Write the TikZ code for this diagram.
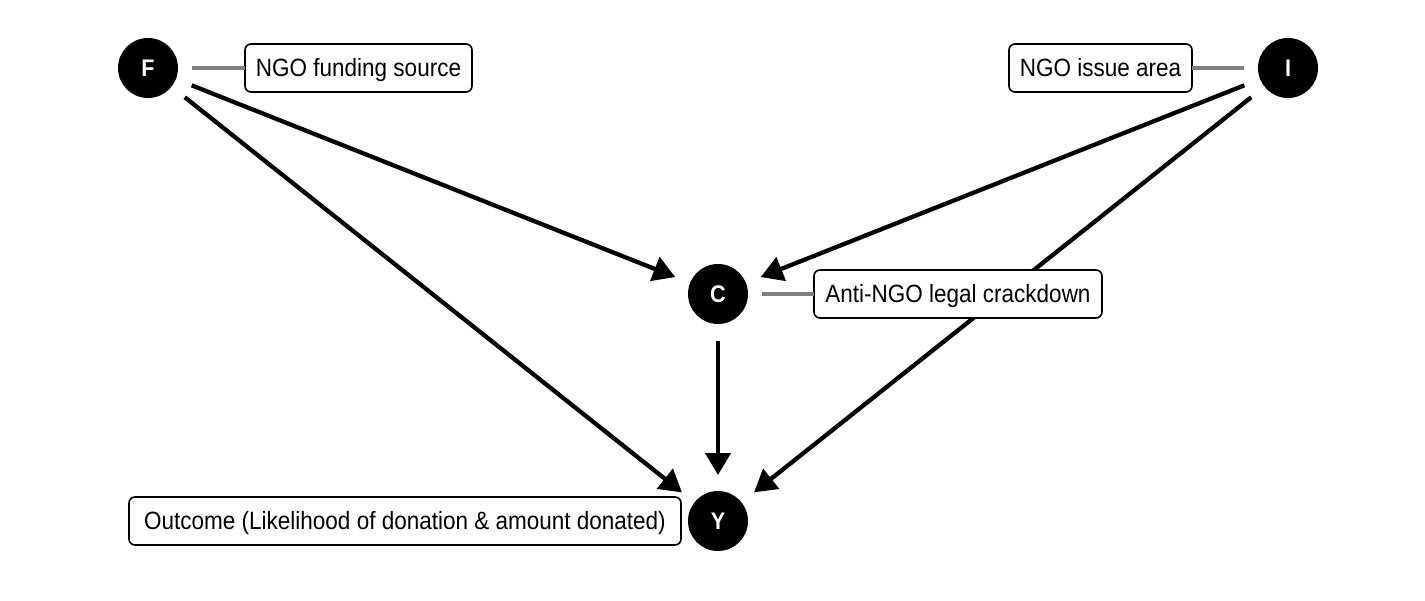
\documentclass[tikz,border=0pt]{standalone}
\usepackage{fontspec}
\setmainfont{Liberation Sans}[FakeStretch=0.9]
\usetikzlibrary{arrows.meta}
\begin{document}
\begin{tikzpicture}[x=1pt,y=-1pt,
  dagnode/.style={circle,fill=black,minimum size=60pt,inner sep=0pt,outer sep=0pt,text=white,font=\fontsize{24}{26}\selectfont\bfseries},
  labelbox/.style={draw=black,line width=1.6pt,rounded corners=6pt,fill=white,minimum height=48pt,inner xsep=0pt,inner ysep=0pt,outer sep=0pt,text height=17.5pt,text depth=0pt,font=\fontsize{25}{28}\selectfont},
  edge/.style={line width=4.3pt,-{Triangle[length=22pt,width=25pt]},shorten <=17pt,shorten >=16pt},
  tie/.style={color=black!50,line width=4pt,shorten <=14pt}]
\useasboundingbox (0,0) rectangle (1425,600);
\node[dagnode] (F) at (148,68) {F};
\node[dagnode] (I) at (1288,68) {I};
\node[dagnode] (C) at (718,294) {C};
\node[dagnode] (Y) at (718,521) {Y};
\draw[edge] (F) -- (C);
\draw[edge] (F) -- (Y);
\draw[edge] (I) -- (Y);
\draw[edge] (I) -- (C);
\draw[edge] (C) -- (Y);
\node[labelbox,minimum width=227pt] (Fl) at (358.5,68) {NGO funding source};
\node[labelbox,minimum width=183pt] (Il) at (1100.5,68) {NGO issue area};
\node[labelbox,minimum width=288pt] (Cl) at (958,294) {Anti-NGO legal crackdown};
\node[labelbox,minimum width=552pt] (Yl) at (405,521) {Outcome (Likelihood of donation \& amount donated)};
\draw[tie] (F) -- (Fl);
\draw[tie] (I) -- (Il);
\draw[tie] (C) -- (Cl);
\end{tikzpicture}
\end{document}
